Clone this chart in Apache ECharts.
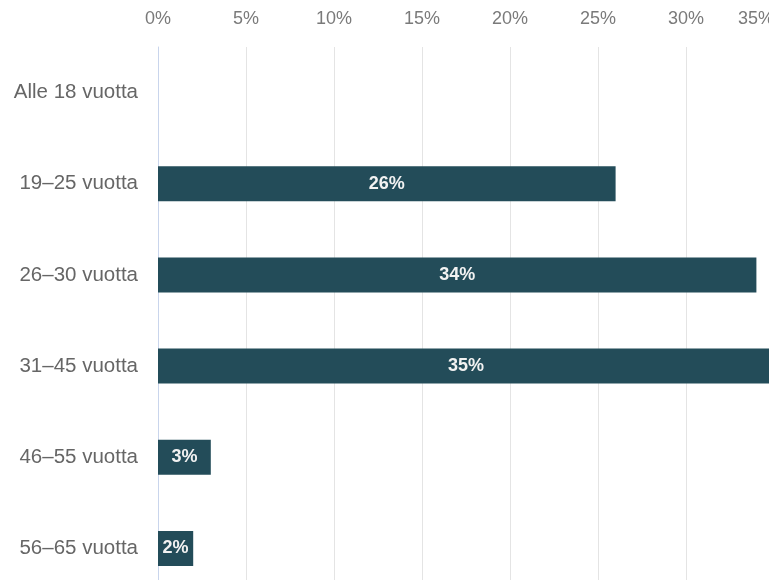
<!DOCTYPE html>
<html>
<head>
<meta charset="utf-8">
<script src="https://cdn.jsdelivr.net/npm/echarts@6/dist/echarts.min.js"></script>
<style>
  html, body { margin: 0; padding: 0; background: #fff; }
  #chart { width: 769px; height: 580px; }
</style>
</head>
<body>
<div id="chart"></div>
<script>
// Age groups and share of respondents (%)
const ageGroups = ['Alle 18 vuotta', '19–25 vuotta', '26–30 vuotta', '31–45 vuotta', '46–55 vuotta', '56–65 vuotta'];
const shares = [0, 26, 34, 35, 3, 2];
const tickStep = 5;
const axisMax = 35;

const chart = echarts.init(document.getElementById('chart'));
chart.setOption({
  animation: false,
  textStyle: { fontFamily: 'Liberation Sans, Arial, sans-serif' },
  grid: {
    left: 158, right: -5, top: 47, bottom: -14,
    containLabel: false,
    outerBoundsMode: 'none'
  },
  xAxis: {
    type: 'value',
    position: 'top',
    min: 0,
    max: axisMax,
    interval: tickStep,
    axisLine: { show: false },
    axisTick: { show: false },
    axisLabel: {
      formatter: '{value}%',
      color: '#7a7a7a',
      fontSize: 18,
      margin: 19,
      alignMaxLabel: 'right'
    },
    splitLine: { show: true, lineStyle: { color: '#e4e4e4', width: 1 } }
  },
  yAxis: {
    type: 'category',
    data: ageGroups,
    inverse: true,
    axisLine: { show: true, lineStyle: { color: '#c9d5ec', width: 1 } },
    axisTick: { show: false },
    axisLabel: { color: '#666666', fontSize: 20.5, margin: 20 }
  },
  series: [{
    type: 'bar',
    data: shares,
    barWidth: 35,
    itemStyle: { color: '#234c59' },
    label: {
      show: true,
      position: 'inside',
      formatter: p => p.value > 0 ? p.value + '%' : '',
      color: '#f2f2f2',
      fontSize: 18,
      fontWeight: 'bold'
    }
  }]
});
</script>
</body>
</html>
